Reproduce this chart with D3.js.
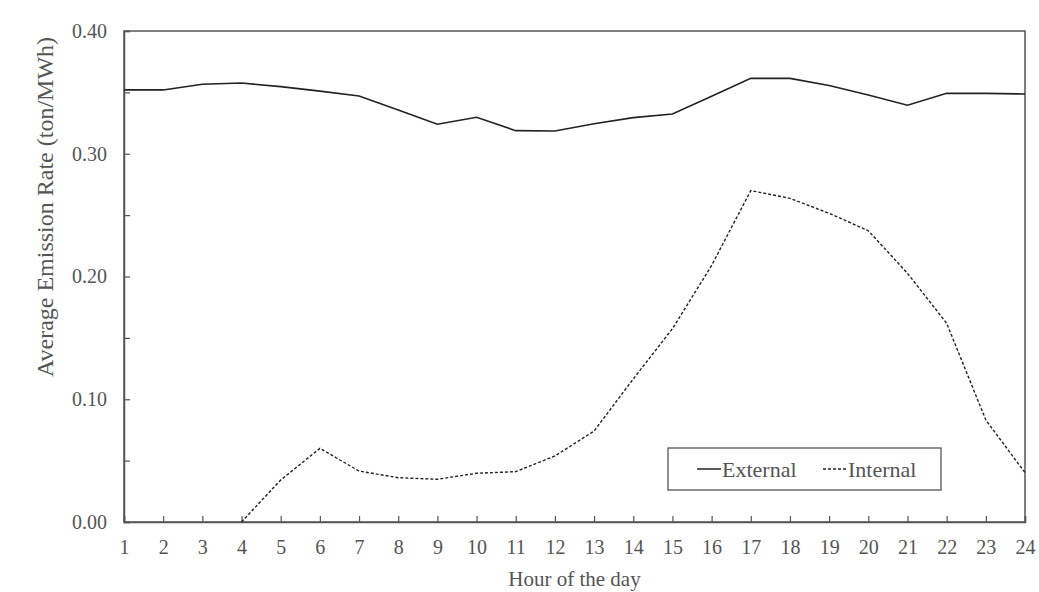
<!DOCTYPE html>
<html>
<head>
<meta charset="utf-8">
<script src="https://cdn.jsdelivr.net/npm/d3@7"></script>
<style>
  body { margin: 0; background: #fff; }
</style>
</head>
<body>
<div id="chart"></div>
<script>
const hours = d3.range(1, 25);
const external = [0.352, 0.352, 0.3566, 0.3576, 0.3547, 0.351, 0.347, 0.3356, 0.324, 0.3297, 0.3188, 0.3185,
  0.3245, 0.3294, 0.3324, 0.3468, 0.3614, 0.3614, 0.3556, 0.3478, 0.3395, 0.3492, 0.3492, 0.3487];
const internal = [null, null, null, 0.0, 0.0342, 0.060, 0.0415, 0.0361, 0.0348, 0.0397, 0.041, 0.0538,
  0.0741, 0.1165, 0.1575, 0.209, 0.270, 0.2637, 0.2515, 0.2373, 0.2026, 0.1619, 0.0831, 0.0402];
const yTicks = [0, 0.05, 0.10, 0.15, 0.20, 0.25, 0.30, 0.35, 0.40];

const width = 1039, height = 592;
const margin = {left: 124, right: 14, top: 31, bottom: 70};
const serif = "'Liberation Serif', 'Times New Roman', serif";
const textColor = "#555";
const axisColor = "#555";

const svg = d3.select("#chart").append("svg")
  .attr("width", width)
  .attr("height", height)
  .attr("font-family", serif);

const x = d3.scaleLinear().domain([1, 24]).range([margin.left, width - margin.right]);
const y = d3.scaleLinear().domain([0, 0.4]).range([height - margin.bottom, margin.top]);

// frame
svg.append("rect")
  .attr("x", x(1))
  .attr("y", y(0.4))
  .attr("width", x(24) - x(1))
  .attr("height", y(0) - y(0.4))
  .attr("fill", "none")
  .attr("stroke", axisColor)
  .attr("stroke-width", 1.5);

const xAxis = svg.append("g")
  .attr("transform", `translate(0,${y(0)})`)
  .call(d3.axisBottom(x).tickValues(hours).tickSize(-6).tickPadding(18).tickFormat(d3.format("d")));

const yAxis = svg.append("g")
  .attr("transform", `translate(${x(1)},0)`)
  .call(d3.axisLeft(y).tickValues(yTicks).tickSize(-6).tickPadding(17)
    .tickFormat(d => (Math.round(d * 100) % 10 === 0) ? d.toFixed(2) : ""));

[xAxis, yAxis].forEach(a => {
  a.attr("font-family", serif);
  a.select("path.domain").attr("stroke", axisColor).attr("stroke-width", 1.5);
  a.selectAll("line").attr("stroke", axisColor).attr("stroke-width", 1.2);
  a.selectAll("text").attr("font-size", "20px").attr("fill", textColor);
});

// axis titles
svg.append("text")
  .attr("x", (x(1) + x(24)) / 2)
  .attr("y", 586)
  .attr("text-anchor", "middle")
  .attr("font-size", "21px")
  .attr("fill", textColor)
  .text("Hour of the day");

svg.append("text")
  .attr("transform", "rotate(-90)")
  .attr("x", -207)
  .attr("y", 53)
  .attr("text-anchor", "middle")
  .attr("font-size", "24px")
  .attr("fill", textColor)
  .text("Average Emission Rate (ton/MWh)");

const line = d3.line()
  .defined(d => d[1] !== null)
  .x(d => x(d[0]))
  .y(d => y(d[1]));

svg.append("path")
  .datum(hours.map((h, i) => [h, external[i]]))
  .attr("fill", "none")
  .attr("stroke", "#222")
  .attr("stroke-width", 1.6)
  .attr("d", line);

svg.append("path")
  .datum(hours.map((h, i) => [h, internal[i]]))
  .attr("fill", "none")
  .attr("stroke", "#222")
  .attr("stroke-width", 1.4)
  .attr("stroke-dasharray", "3,2")
  .attr("d", line);

// legend
const legend = svg.append("g");
legend.append("rect")
  .attr("x", 668).attr("y", 448)
  .attr("width", 273).attr("height", 42)
  .attr("fill", "#fff")
  .attr("stroke", axisColor)
  .attr("stroke-width", 1.3);

const items = [
  {name: "External", dash: null, x0: 697},
  {name: "Internal", dash: "3,2", x0: 823}
];
items.forEach(it => {
  legend.append("line")
    .attr("x1", it.x0).attr("x2", it.x0 + 24)
    .attr("y1", 469).attr("y2", 469)
    .attr("stroke", "#222")
    .attr("stroke-width", 1.5)
    .attr("stroke-dasharray", it.dash);
  legend.append("text")
    .attr("x", it.x0 + 25)
    .attr("y", 477)
    .attr("font-size", "22px")
    .attr("fill", textColor)
    .text(it.name);
});
</script>
</body>
</html>
